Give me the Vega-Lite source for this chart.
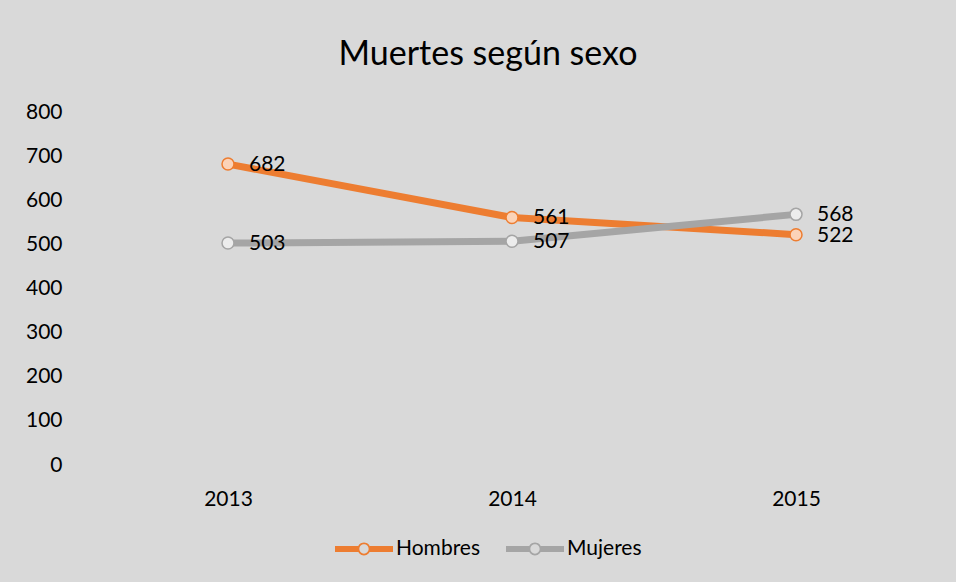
{
  "$schema": "https://vega.github.io/schema/vega-lite/v6.json",
  "autosize": {"type": "none"},
  "width": 852,
  "height": 353,
  "padding": {"left": 86, "top": 112, "right": 18, "bottom": 117},
  "background": "#d9d9d9",
  "config": {
    "view": {"stroke": null},
    "font": "Lato",
    "axis": {"labelFont": "Lato", "labelFontSize": 21, "labelColor": "#000000", "domain": false, "ticks": false, "tickSize": 0, "grid": false, "title": null}
  },
  "title": {
    "text": "Muertes según sexo",
    "font": "Lato",
    "fontSize": 34,
    "fontWeight": "normal",
    "color": "#000000",
    "anchor": "middle",
    "frame": "group",
    "baseline": "alphabetic",
    "offset": 2,
    "dx": -24
  },
  "data": {
    "values": [
      {"year": "2013", "serie": "Hombres", "value": 682},
      {"year": "2014", "serie": "Hombres", "value": 561},
      {"year": "2015", "serie": "Hombres", "value": 522},
      {"year": "2013", "serie": "Mujeres", "value": 503},
      {"year": "2014", "serie": "Mujeres", "value": 507},
      {"year": "2015", "serie": "Mujeres", "value": 568}
    ]
  },
  "encoding": {
    "x": {"field": "year", "type": "ordinal", "scale": {"type": "point", "padding": 0.5}, "axis": {"labelAngle": 0, "labelPadding": 23}},
    "y": {"field": "value", "type": "quantitative", "scale": {"domain": [0, 800]}, "axis": {"values": [0, 100, 200, 300, 400, 500, 600, 700, 800], "labelPadding": 24}}
  },
  "layer": [
    {
      "mark": {"type": "line", "strokeWidth": 7, "strokeCap": "round", "strokeJoin": "round"},
      "encoding": {
        "stroke": {"field": "serie", "type": "nominal", "scale": {"domain": ["Hombres", "Mujeres"], "range": ["#ed7d31", "#a5a5a5"]}, "legend": null}
      }
    },
    {
      "mark": {"type": "point", "filled": true, "size": 144, "opacity": 1},
      "encoding": {
        "color": {"field": "serie", "type": "nominal", "scale": {"range": ["#ed7d31", "#a5a5a5"]},
          "legend": {
            "title": null,
            "orient": "none",
            "direction": "horizontal",
            "legendX": 249,
            "legendY": 408,
            "padding": 0,
            "symbolType": "M-1,-0.1H-0.2V0.1H-1Z M0.2,-0.1H1V0.1H0.2Z M0,-0.22A0.22,0.22 0 1,1 0,0.22A0.22,0.22 0 1,1 0,-0.22Z M0,-0.16A0.16,0.16 0 1,0 0,0.16A0.16,0.16 0 1,0 0,-0.16Z",
            "symbolSize": 3364,
            "symbolStrokeWidth": 0,
            "symbolOpacity": 1,
            "labelFont": "Lato",
            "labelFontSize": 21,
            "labelColor": "#000000",
            "labelOffset": 3,
            "columnPadding": 25
          }
        }
      }
    },
    {
      "mark": {"type": "point", "filled": false, "size": 144, "strokeWidth": 1.5, "opacity": 1},
      "encoding": {
        "stroke": {"field": "serie", "type": "nominal", "legend": null},
        "fill": {"field": "serie", "type": "nominal", "scale": {"domain": ["Hombres", "Mujeres"], "range": ["#fbd3b8", "#ececec"]}, "legend": null}
      }
    },
    {
      "mark": {"type": "text", "align": "left", "baseline": "middle", "dx": 21, "dy": 1, "font": "Lato", "fontSize": 21, "color": "#000000"},
      "encoding": {
        "text": {"field": "value", "type": "quantitative"}
      }
    }
  ]
}
